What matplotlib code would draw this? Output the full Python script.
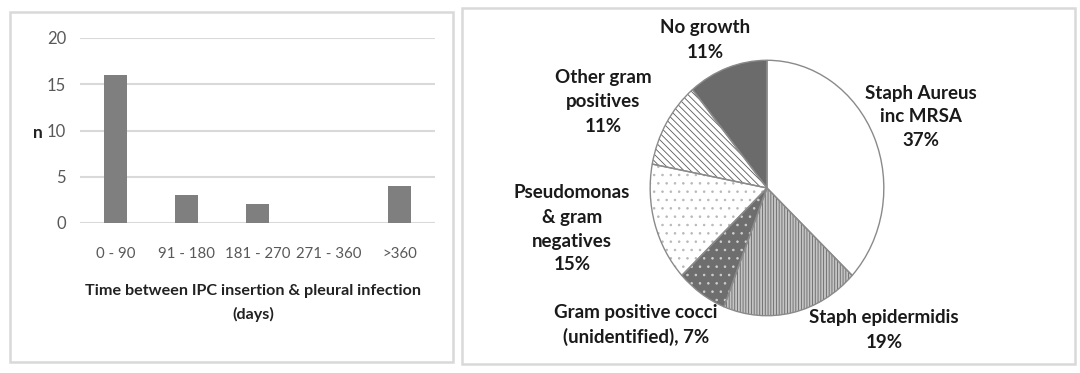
import matplotlib
matplotlib.use("Agg")
import matplotlib.pyplot as plt
from matplotlib.patches import Rectangle

plt.rcParams['font.family'] = ['Lato', 'DejaVu Sans']
plt.rcParams['hatch.linewidth'] = 0.6

# bar chart data
bins = ['0 - 90', '91 - 180', '181 - 270', '271 - 360', '>360']
counts = [16, 3, 2, 0, 4]
yticks = [0, 5, 10, 15, 20]

# pie chart data (clockwise from 12 o'clock)
organisms = ['Staph Aureus\ninc MRSA', 'Staph epidermidis',
             'Gram positive cocci\n(unidentified),', 'Pseudomonas\n& gram\nnegatives',
             'Other gram\npositives', 'No growth']
shares = [37, 19, 7, 15, 11, 11]

W, H = 1080, 373
fig = plt.figure(figsize=(W / 100, H / 100), dpi=100)


def fbox(x0, y0, x1, y1):
    # pixel box (top-left origin) -> figure fraction rect
    return [x0 / W, 1 - y1 / H, (x1 - x0) / W, (y1 - y0) / H]


# panel frames
for x0, y0, x1, y1 in [(10, 12, 453, 362), (462, 8, 1075, 364)]:
    r = fbox(x0, y0, x1, y1)
    fig.patches.append(Rectangle((r[0], r[1]), r[2], r[3], transform=fig.transFigure,
                                 fill=False, edgecolor='#d9d9d9', lw=1.8))

# ---- bar chart
ax = fig.add_axes(fbox(80, 38, 435, 223))
ax.bar(range(len(bins)), counts, width=0.31, color='#7f7f7f', zorder=3)
ax.set_xlim(-0.5, len(bins) - 0.5)
ax.set_ylim(0, 20)
ax.set_yticks(yticks)
ax.set_xticks(range(len(bins)))
ax.set_xticklabels(bins)
ax.grid(axis='y', color='#d9d9d9', lw=1.5, zorder=0)
for s in ax.spines.values():
    s.set_visible(False)
ax.tick_params(length=0, colors='#595959')
ax.tick_params(axis='y', pad=10, labelsize=12)
ax.tick_params(axis='x', pad=17, labelsize=10.8)
ax.set_ylabel('n', rotation=0, fontsize=12.5, fontweight='bold', color='#222222',
              va='center')
ax.yaxis.set_label_coords(-0.118, 0.486)
ax.set_xlabel('Time between IPC insertion & pleural infection\n(days)', fontsize=11.6,
              fontweight='bold', color='#222222', linespacing=1.7)
ax.xaxis.set_label_coords(0.487, -0.33)

# ---- pie chart
cx, cy, rx, ry = 767, 188, 118, 129
pax = fig.add_axes(fbox(cx - rx, cy - ry, cx + rx, cy + ry))
faces = ['white', '#c4c4c4', '#6e6e6e', 'white', 'white', '#6b6b6b']
hatches = [None, '||||||', '..', '..', '\\\\\\\\\\', None]
hcolors = ['#808080', '#666666', '#d0d0d0', '#b8b8b8', '#5a5a5a', '#6b6b6b']
wedges, _ = pax.pie(shares, startangle=90, counterclock=False, colors=faces,
                    wedgeprops=dict(linewidth=0))
for w, h, hc in zip(wedges, hatches, hcolors):
    if h:
        w.set_hatch(h)
        w.set_edgecolor(hc)
pax.pie(shares, startangle=90, counterclock=False,
        wedgeprops=dict(facecolor='none', edgecolor='#8a8a8a', linewidth=1.0))
pax.set_aspect('auto')
pax.set_xlim(-1.01, 1.01)
pax.set_ylim(-1.01, 1.01)
pax.axis('off')

# label block centres in pixels
label_pos = [(921, 117), (884, 330), (636, 325), (572, 229), (603, 102), (705, 40)]
for name, pct, (lx, ly) in zip(organisms, shares, label_pos):
    if name.endswith(','):
        txt = f'{name} {pct}%'
    else:
        txt = f'{name}\n{pct}%'
    fig.text(lx / W, 1 - ly / H, txt, ha='center', va='center', ma='center',
             fontsize=13.5, fontweight='bold', color='#1a1a1a', linespacing=1.5)

fig.savefig('out.png', dpi=100, facecolor='white')
